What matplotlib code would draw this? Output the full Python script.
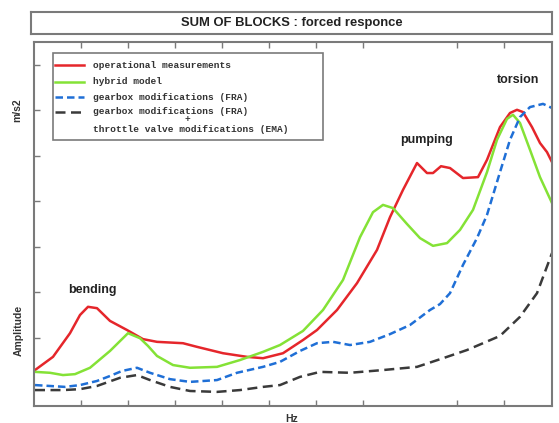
import matplotlib
matplotlib.use("Agg")
import matplotlib.pyplot as plt
from matplotlib.patches import Rectangle

# ---------------- data ----------------
red_x = [1, 19, 36, 46, 54, 63, 76, 93, 109, 123, 149, 163, 189, 213, 229, 249, 269, 283, 303,
         323, 343, 356, 369, 383, 393, 399, 407, 416, 429, 444, 453, 466, 476, 483, 489, 498,
         506, 513, 518]
red_y = [0.79, 1.08, 1.60, 2.00, 2.18, 2.15, 1.87, 1.67, 1.47, 1.41, 1.38, 1.30, 1.16, 1.08,
         1.05, 1.16, 1.45, 1.67, 2.11, 2.70, 3.43, 4.15, 4.75, 5.34, 5.12, 5.12, 5.27, 5.23,
         5.01, 5.03, 5.41, 6.13, 6.44, 6.51, 6.46, 6.13, 5.78, 5.58, 5.36]

green_x = [1, 16, 29, 41, 56, 76, 94, 106, 114, 123, 139, 156, 183, 206, 229, 246, 269, 289,
           309, 326, 339, 349, 359, 373, 386, 399, 413, 426, 439, 453, 463, 473, 479, 486, 496,
           506, 518]
green_y = [0.75, 0.73, 0.68, 0.70, 0.84, 1.21, 1.60, 1.49, 1.32, 1.10, 0.90, 0.84, 0.86, 1.01,
           1.19, 1.34, 1.65, 2.11, 2.77, 3.71, 4.26, 4.42, 4.35, 4.00, 3.69, 3.52, 3.58, 3.87,
           4.31, 5.14, 5.85, 6.31, 6.40, 6.22, 5.63, 5.03, 4.46]

blue_x = [1, 16, 31, 46, 63, 76, 88, 103, 116, 136, 156, 183, 203, 229, 246, 266, 283, 299,
          316, 336, 356, 376, 396, 406, 416, 429, 443, 453, 466, 476, 486, 496, 509, 518]
blue_y = [0.46, 0.44, 0.42, 0.46, 0.55, 0.66, 0.77, 0.84, 0.73, 0.59, 0.53, 0.57, 0.73, 0.86,
          0.97, 1.21, 1.38, 1.41, 1.34, 1.41, 1.58, 1.78, 2.11, 2.24, 2.48, 3.10, 3.69, 4.20,
          5.14, 5.85, 6.35, 6.57, 6.64, 6.55]

black_x = [1, 29, 46, 63, 86, 103, 116, 136, 156, 183, 206, 229, 246, 266, 286, 316, 349, 383,
           409, 433, 449, 466, 486, 503, 518]
black_y = [0.35, 0.35, 0.37, 0.44, 0.62, 0.68, 0.57, 0.42, 0.33, 0.31, 0.35, 0.42, 0.46, 0.64,
           0.75, 0.73, 0.79, 0.86, 1.05, 1.23, 1.38, 1.54, 1.96, 2.48, 3.36]

x_ticks = [47, 94, 141, 188, 235, 282, 329, 423, 470]
y_ticks = [1.5, 2.5, 3.5, 4.5, 5.5, 6.5, 7.5]

labels = ["operational measurements", "hybrid model", "gearbox modifications (FRA)",
          "gearbox modifications (FRA)"]
extra_lines = ["                +", "throttle valve modifications (EMA)"]
title = "SUM OF BLOCKS : forced responce"
annotations = [("bending", 58, 2.55), ("pumping", 393, 5.85), ("torsion", 484, 7.16)]

# ---------------- style ----------------
RED = "#e5262b"
GREEN = "#84e236"
BLUE = "#1f6fd6"
BLACK = "#3a3a3a"
GRAY = "#7a7a7a"
SANS = "Liberation Sans"
MONO = "Liberation Mono"

fig = plt.figure(figsize=(5.59, 4.23), dpi=100)
fig.patch.set_facecolor("white")

# title box
tax = fig.add_axes([31 / 559, 1 - 34 / 423, 521 / 559, 22 / 423])
tax.set_xticks([]); tax.set_yticks([])
for s in tax.spines.values():
    s.set_color(GRAY); s.set_linewidth(1.5)
tax.text(0.5, 0.5, title, ha="center", va="center", fontsize=9.4, fontweight="bold",
         family=SANS, color="#222222", transform=tax.transAxes)

ax = fig.add_axes([34 / 559, 1 - 406 / 423, 518 / 559, 364 / 423])
ax.plot(red_x, red_y, color=RED, lw=1.8, solid_joinstyle="round")
ax.plot(green_x, green_y, color=GREEN, lw=1.8, solid_joinstyle="round")
ax.plot(blue_x, blue_y, color=BLUE, lw=1.8, ls=(0, (3, 1.6)))
ax.plot(black_x, black_y, color=BLACK, lw=1.8, ls=(0, (4, 2.2)))

ax.set_xlim(0, 518)
ax.set_ylim(0, 8)
ax.set_xticks(x_ticks)
ax.set_yticks(y_ticks)
ax.tick_params(direction="in", length=4, width=1, color=GRAY, labelbottom=False,
               labelleft=False, top=True)
for s in ax.spines.values():
    s.set_color(GRAY); s.set_linewidth(1.5)

for txt, x, y in annotations:
    ax.text(x, y, txt, ha="center", va="center", fontsize=9, fontweight="bold",
            family=SANS, color="#222222")

# legend (drawn by hand to match the original layout)
def px2ax(px, py):
    return (px - 34) / 518, (406 - py) / 364

lx0, ly0 = px2ax(53, 140)
lx1, ly1 = px2ax(323, 53)
ax.add_patch(Rectangle((lx0, ly0), lx1 - lx0, ly1 - ly0, transform=ax.transAxes,
                       facecolor="white", edgecolor=GRAY, lw=1.2, zorder=5))
entry_py = [65, 82, 97, 112]
styles = [dict(color=RED, ls="-"), dict(color=GREEN, ls="-"),
          dict(color=BLUE, ls=(0, (3, 1.6))), dict(color=BLACK, ls=(0, (4, 2.2)))]
hx0, _ = px2ax(55, 0)
hx1, _ = px2ax(84, 0)
tx, _ = px2ax(93, 0)
for py, lab, st in zip(entry_py, labels, styles):
    _, yy = px2ax(0, py)
    ax.plot([hx0, hx1], [yy, yy], transform=ax.transAxes, lw=1.8, zorder=6, **st)
    ax.text(tx, yy, lab, transform=ax.transAxes, ha="left", va="center", fontsize=6.8,
            fontweight="bold", family=MONO, color="#333333", zorder=6)
for py, lab in zip([120, 129], extra_lines):
    _, yy = px2ax(0, py)
    ax.text(tx, yy, lab, transform=ax.transAxes, ha="left", va="center", fontsize=6.8,
            fontweight="bold", family=MONO, color="#333333", zorder=6)

fig.text(17 / 559, 1 - 110 / 423, "m/s2", rotation=90, ha="center", va="center",
         fontsize=7.5, fontweight="bold", family=SANS, color="#333333")
fig.text(19 / 559, 1 - 330 / 423, "Amplitude", rotation=90, ha="center", va="center",
         fontsize=7.5, fontweight="bold", family=SANS, color="#333333")
fig.text(292 / 559, 1 - 419 / 423, "Hz", ha="center", va="center",
         fontsize=7.5, fontweight="bold", family=SANS, color="#333333")

fig.savefig("out.png", dpi=100, facecolor="white")
